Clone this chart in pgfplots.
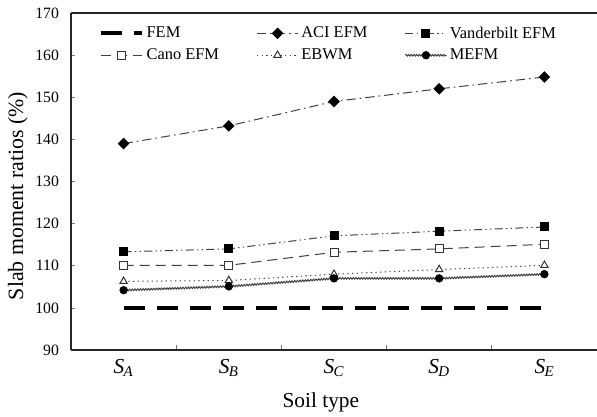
\documentclass[border=0pt]{standalone}
\usepackage{fontspec}
\setmainfont{Liberation Serif}
\usepackage{pgfplots}
\pgfplotsset{compat=1.18}
\usetikzlibrary{decorations.pathmorphing}

\newcommand{\soil}[1]{\textit{S}\textsubscript{\kern-0.5pt\textit{#1}}}

\begin{document}
\begin{tikzpicture}
\begin{axis}[
  scale only axis,
  width=394.5pt, height=252.75pt,
  xmin=-0.5, xmax=4.5, ymin=90, ymax=170,
  axis x line=box, axis y line=left,
  y axis line style={-},
  axis line style={line width=0.9pt, black!85},
  xtick={0,1,2,3,4},
  xticklabels={\soil{A}, \soil{B}, \soil{C}, \soil{D}, \soil{E}},
  major x tick style={draw=none},
  minor xtick={0.5,1.5,2.5,3.5},
  ytick={90,100,...,170},
  tick align=inside,
  xtick pos=left, ytick pos=left,
  major tick length=3pt, minor tick length=4pt,
  every tick/.style={black!55, line width=0.5pt},
  /pgf/number format/assume math mode=true,
  yticklabel style={font=\fontsize{11.8}{13}\selectfont, xshift=-5.5pt},
  xticklabel style={font=\fontsize{16}{19}\selectfont, yshift=-3.5pt},
  xlabel={Soil type},
  ylabel={Slab moment ratios (\%)},
  every axis x label/.style={at={(axis description cs:0.475,0)}, anchor=base, yshift=-42.75pt, font=\fontsize{16}{19}\selectfont},
  every axis y label/.style={at={(axis description cs:-0.1008,0.457)}, rotate=90, anchor=center, font=\fontsize{16.4}{19}\selectfont},
  legend columns=3,
  legend style={draw=none, fill=none, inner sep=0pt, at={(axis description cs:0.052,0.969)}, anchor=north west,
    font=\fontsize{12.3}{14}\selectfont, row sep=2.2pt,
    nodes={inner ysep=2.2pt},
    /tikz/every even column/.append style={column sep=26pt}},
  legend cell align=left,
  legend image code/.code={\draw[mark repeat=2,mark phase=2] plot coordinates {(0pt,0pt) (15.5pt,0pt) (31pt,0pt)};},
]
\coordinate (ll) at (rel axis cs:0,0);
\coordinate (ur) at (rel axis cs:1,1);

\addplot[black, line width=3pt, dash pattern=on 15.75pt off 9pt, mark=none]
  coordinates {(0,100) (1,100) (2,100) (3,100) (4,100)};
\addlegendentry{FEM}

\addplot[black!75, line width=0.75pt, dash pattern=on 7pt off 3pt on 1.2pt off 3pt,
  mark=square*, mark size=2.7pt, mark options={solid, black, fill=black, rotate=45}]
  coordinates {(0,139) (1,143.2) (2,149) (3,152) (4,154.8)};
\addlegendentry{ACI EFM}

\addplot[black!75, line width=0.75pt, dash pattern=on 6pt off 2.5pt on 1pt off 2.5pt on 1pt off 2.5pt,
  mark=square*, mark size=3pt, mark options={solid, black, fill=black}]
  coordinates {(0,113.3) (1,114) (2,117.1) (3,118.2) (4,119.2)};
\addlegendentry{Vanderbilt EFM}

\addplot[black!75, line width=0.75pt, dash pattern=on 7.5pt off 4.5pt,
  mark=square*, mark size=3pt, mark options={solid, black!80, fill=white}]
  coordinates {(0,110.1) (1,110.1) (2,113.2) (3,114) (4,115.1)};
\addlegendentry{Cano EFM}

\addplot[black!75, line width=0.75pt, dash pattern=on 1pt off 2.5pt,
  mark=triangle*, mark size=3.2pt, mark options={solid, black!80, fill=white}]
  coordinates {(0,106.3) (1,106.5) (2,108) (3,109.1) (4,110.1)};
\addlegendentry{EBWM}

% MEFM: wavy line, then its marks with the legend entry
\addplot[black!75, line width=0.75pt, mark=none, forget plot,
  decorate, decoration={snake, amplitude=0.6pt, segment length=2pt}]
  coordinates {(0,104.2) (1,105.1) (2,107) (3,107) (4,108)};
\addplot[only marks, mark=*, mark size=2.9pt, mark options={black, fill=black},
  legend image code/.code={
    \draw[black!75, line width=0.75pt, decorate, decoration={snake, amplitude=0.6pt, segment length=2pt}] (0pt,0pt) -- (31pt,0pt);
    \draw[mark=*, mark size=2.9pt, mark options={black, fill=black}] plot coordinates {(15.5pt,0pt)};}]
  coordinates {(0,104.2) (1,105.1) (2,107) (3,107) (4,108)};
\addlegendentry{MEFM}
\end{axis}
\pgfresetboundingbox
\useasboundingbox ([shift={(-53.25pt,-49.5pt)}]ll) rectangle ([shift={(0pt,9.75pt)}]ur);
\end{tikzpicture}
\end{document}
